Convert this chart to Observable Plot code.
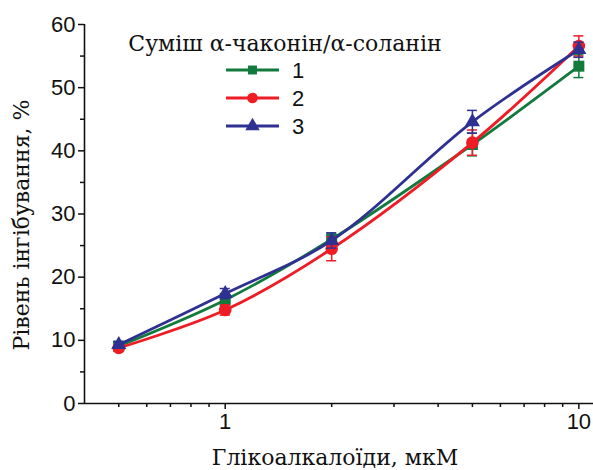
<!DOCTYPE html>
<html>
<head>
<meta charset="utf-8">
<script src="https://cdn.jsdelivr.net/npm/d3@7"></script>
<script src="https://cdn.jsdelivr.net/npm/@observablehq/plot@0.6"></script>
<style>
  html, body { margin: 0; padding: 0; background: #fff; }
  #chart { position: relative; width: 593px; height: 470px; overflow: hidden; }
  .lbl { position: absolute; font-family: "DejaVu Serif"; color: #111; white-space: nowrap; line-height: 1; }
</style>
</head>
<body>
<div id="chart"></div>
<script>
// Concentrations (µM)
const concentrations = [0.5, 1, 2, 5, 10];
// Series values (% inhibition) and error bars
const series1 = [9.1, 16.4, 26.0, 41.0, 53.4];
const err1    = [0.5, 1.0, 1.0, 1.8, 1.8];
const series2 = [8.8, 14.8, 24.5, 41.3, 56.6];
const err2    = [0.5, 0.8, 1.9, 2.0, 1.6];
const series3 = [9.3, 17.4, 25.8, 44.6, 56.0];
const err3    = [0.5, 0.8, 1.2, 1.8, 1.2];
const seriesNames = ["1", "2", "3"];
const colors = ["#127a3d", "#ee1d25", "#2e3192"];
const xMajorTicks = [1, 10];
const xMinorTicks = [0.5, 0.6, 0.7, 0.8, 0.9, 2, 3, 4, 5, 6, 7, 8, 9];
const yMajorTicks = [0, 10, 20, 30, 40, 50, 60];
const yMinorTicks = [5, 15, 25, 35, 45, 55];
const legendTitle = "Суміш α-чаконін/α-соланін";
const xLabel = "Глікоалкалоїди, мкМ";
const yLabel = "Рівень інгібування, %";

const allValues = [series1, series2, series3];
const allErr = [err1, err2, err3];
const rows = [];
seriesNames.forEach((s, i) => {
  concentrations.forEach((c, j) => {
    rows.push({s, i, x: c, y: allValues[i][j], lo: allValues[i][j] - allErr[i][j], hi: allValues[i][j] + allErr[i][j]});
  });
});

const SANS = "Liberation Sans";
const symbols = ["square", "circle", "triangle"];
const symbolR = [6.2, 6.3, 5.6];

const marks = [];
marks.push(Plot.ruleY([0], {stroke: "#111", strokeWidth: 1.6}));
marks.push(Plot.ruleX([0.4], {y1: 0, y2: 60, stroke: "#111", strokeWidth: 1.6}));
marks.push(Plot.axisX(xMajorTicks, {label: null, tickSize: 6, tickPadding: 4, strokeWidth: 1.5, fontSize: 22, fontFamily: SANS, fill: "#111", tickFormat: d => String(d)}));
marks.push(Plot.axisX(xMinorTicks, {label: null, tickSize: 4, strokeWidth: 1.5, tickFormat: () => ""}));
marks.push(Plot.axisY(yMajorTicks, {label: null, tickSize: 6, tickPadding: 3, strokeWidth: 1.5, fontSize: 22, fontFamily: SANS, fill: "#111", tickFormat: d => String(d)}));
marks.push(Plot.axisY(yMinorTicks, {label: null, tickSize: 4, strokeWidth: 1.5, tickFormat: () => ""}));

seriesNames.forEach((s, i) => {
  const d = rows.filter(r => r.i === i);
  marks.push(Plot.ruleX(d, {x: "x", y1: "lo", y2: "hi", stroke: colors[i], strokeWidth: 1.5}));
  marks.push(Plot.ruleY(d, {y: "hi", x1: "x", x2: "x", insetLeft: -5, insetRight: -5, stroke: colors[i], strokeWidth: 1.5}));
  marks.push(Plot.ruleY(d, {y: "lo", x1: "x", x2: "x", insetLeft: -5, insetRight: -5, stroke: colors[i], strokeWidth: 1.5}));
  marks.push(Plot.line(d, {x: "x", y: "y", stroke: colors[i], strokeWidth: 2.8, curve: "catmull-rom"}));
  marks.push(Plot.dot(d, {x: "x", y: "y", symbol: () => symbols[i], r: symbolR[i], fill: colors[i], stroke: "none"}));
});

const svg = Plot.plot({
  width: 593,
  height: 470,
  marginLeft: 84,
  marginRight: 0,
  marginTop: 24,
  marginBottom: 67,
  style: {color: "#111", background: "#fff"},
  x: {type: "log", domain: [0.4, 11], axis: null},
  y: {domain: [0, 60], axis: null},
  marks
});
svg.setAttribute("font-family", SANS);
const sel = d3.select(svg);
sel.selectAll("text").attr("font-family", SANS).style("font-family", SANS);

// legend graphics
const legendY = [70, 98, 126];
seriesNames.forEach((s, i) => {
  const y = legendY[i];
  const x0 = 226, x1 = 279, xm = (x0 + x1) / 2;
  sel.append("line").attr("x1", x0).attr("x2", x1).attr("y1", y).attr("y2", y)
    .attr("stroke", colors[i]).attr("stroke-width", 2.8);
  const sym = d3.symbol().type([d3.symbolSquare, d3.symbolCircle, d3.symbolTriangle][i]).size([80, 90, 90][i]);
  sel.append("path").attr("d", sym()).attr("transform", `translate(${xm},${y})`).attr("fill", colors[i]);
  sel.append("text").attr("x", 298).attr("y", y + 8)
    .attr("text-anchor", "middle")
    .attr("font-family", SANS).style("font-family", SANS)
    .attr("font-size", 22).attr("fill", "#111")
    .text(s);
});

const chart = document.getElementById("chart");
chart.appendChild(svg);

function label(text, css) {
  const d = document.createElement("div");
  d.className = "lbl";
  d.textContent = text;
  Object.assign(d.style, css);
  chart.appendChild(d);
  return d;
}
label(legendTitle, {left: "285px", top: "33px", fontSize: "22px", transform: "translateX(-50%)"});
label(xLabel, {left: "335px", top: "447px", fontSize: "22px", transform: "translateX(-50%)"});
label(yLabel, {left: "22px", top: "225px", fontSize: "22px", transform: "translate(-50%,-50%) rotate(-90deg)"});
</script>
</body>
</html>
